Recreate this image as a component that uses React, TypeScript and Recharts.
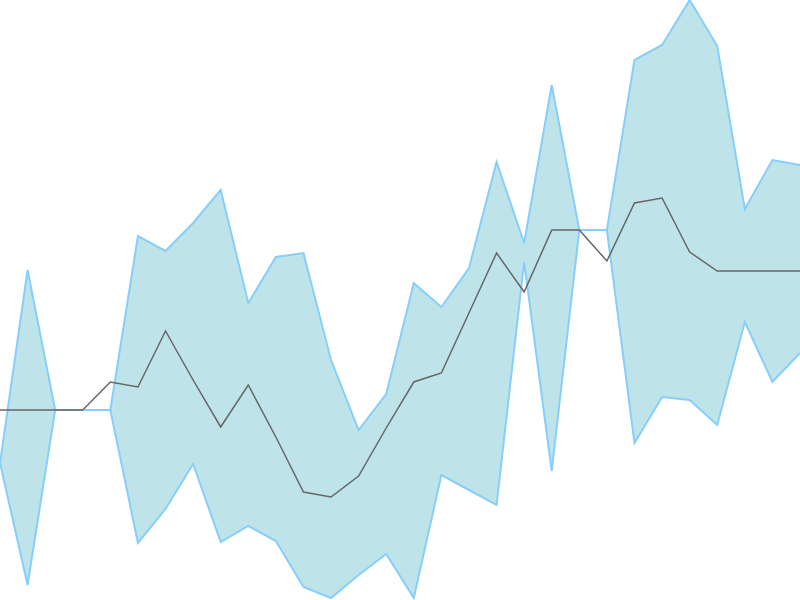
import React from "react";
import { Area, ComposedChart, Line, XAxis, YAxis } from "recharts";

// 30 evenly spaced points
const upper = [137, 330, 190, 190, 190, 364, 349, 377, 410, 297, 343, 347, 240, 170, 206, 317, 293, 332, 438, 357, 515, 370, 370, 540, 555, 600, 554, 391, 440, 435];
const lower = [137, 15, 190, 190, 190, 57, 91, 136, 58, 74, 59, 13, 2, 25, 46, 2, 125, 110, 95, 338, 129, 370, 370, 157, 203, 200, 175, 278, 218, 247];
const middle = [190, 190, 190, 190, 218, 213, 269, 220, 173, 215, 163, 108, 103, 124, 172, 218, 227, 287, 347, 308, 370, 370, 339, 397, 402, 348, 329, 329, 329, 329];

const data = middle.map((m, i) => ({
  idx: i,
  range: [lower[i], upper[i]],
  value: m,
}));

const App = () => {
  return (
    <div style={{ position: "absolute", left: 0, top: 0 }}>
      <ComposedChart width={800} height={600} data={data} margin={{ top: 0, right: 0, bottom: 0, left: 0 }}>
        <XAxis dataKey="idx" hide />
        <YAxis hide domain={[0, 600]} />
        <Area
          type="linear"
          dataKey="range"
          stroke="#87cefa"
          strokeWidth={2}
          fill="#bee4e9"
          fillOpacity={1}
          dot={false}
          activeDot={false}
          isAnimationActive={false}
        />
        <Line
          type="linear"
          dataKey="value"
          stroke="#666666"
          strokeWidth={1.5}
          dot={false}
          activeDot={false}
          isAnimationActive={false}
        />
      </ComposedChart>
    </div>
  );
};

export default App;
